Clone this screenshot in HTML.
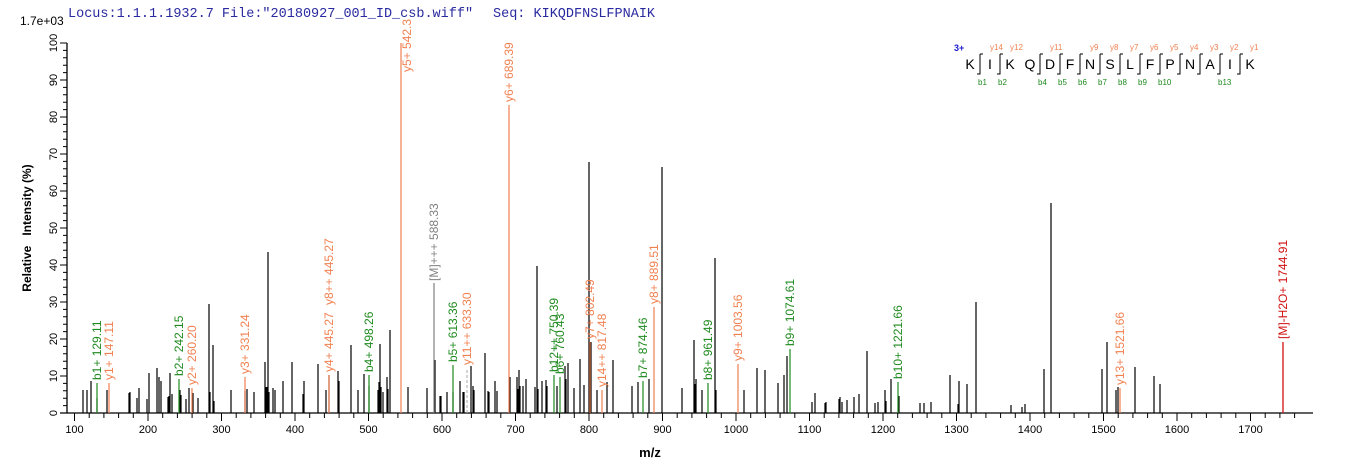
<!DOCTYPE html>
<html><head><meta charset="utf-8"><style>
html,body{margin:0;padding:0;background:#fff;}
svg{display:block;font-family:"Liberation Sans",Arial,sans-serif;}
.o{fill:#f08050}.g{fill:#1e8a1e}.gr{fill:#808080}.r{fill:#d01010}
</style></head><body>
<svg width="1362" height="473" viewBox="0 0 1362 473" xmlns="http://www.w3.org/2000/svg">
<text x="68" y="17" font-family="Liberation Mono,monospace" font-size="13.5" fill="#2a2aa0">Locus:1.1.1.1932.7 File:"20180927_001_ID_csb.wiff"</text>
<text x="493" y="17" font-family="Liberation Mono,monospace" font-size="13.5" fill="#2a2aa0">Seq: KIKQDFNSLFPNAIK</text>
<text x="20" y="25" font-size="12" fill="#000">1.7e+03</text>
<path d="M67 43V413M60 413H1313" stroke="#000" stroke-width="1.3" fill="none"/>
<path stroke="#000" stroke-width="1" fill="none" d="M60 413H67M63 405.6H67M63 398.2H67M63 390.8H67M63 383.4H67M60 376H67M63 368.6H67M63 361.2H67M63 353.8H67M63 346.4H67M60 339H67M63 331.6H67M63 324.2H67M63 316.8H67M63 309.4H67M60 302H67M63 294.6H67M63 287.2H67M63 279.8H67M63 272.4H67M60 265H67M63 257.6H67M63 250.2H67M63 242.8H67M63 235.4H67M60 228H67M63 220.6H67M63 213.2H67M63 205.8H67M63 198.4H67M60 191H67M63 183.6H67M63 176.2H67M63 168.8H67M63 161.4H67M60 154H67M63 146.6H67M63 139.2H67M63 131.8H67M63 124.4H67M60 117H67M63 109.6H67M63 102.2H67M63 94.8H67M63 87.4H67M60 80H67M63 72.6H67M63 65.2H67M63 57.8H67M63 50.4H67M60 43H67"/>
<g font-size="11" fill="#000" text-anchor="middle">
<text transform="translate(57,413) rotate(-90)">0</text>
<text transform="translate(57,376) rotate(-90)">10</text>
<text transform="translate(57,339) rotate(-90)">20</text>
<text transform="translate(57,302) rotate(-90)">30</text>
<text transform="translate(57,265) rotate(-90)">40</text>
<text transform="translate(57,228) rotate(-90)">50</text>
<text transform="translate(57,191) rotate(-90)">60</text>
<text transform="translate(57,154) rotate(-90)">70</text>
<text transform="translate(57,117) rotate(-90)">80</text>
<text transform="translate(57,80) rotate(-90)">90</text>
<text transform="translate(57,43) rotate(-90)">100</text>
</g>
<text transform="translate(31,228) rotate(-90)" font-size="12" font-weight="bold" text-anchor="middle" xml:space="preserve" style="white-space:pre">Relative   Intensity (%)</text>
<path stroke="#000" stroke-width="1" fill="none" d="M74.5 413v8M89.2 413v5M103.9 413v5M118.6 413v5M133.3 413v5M148 413v8M162.7 413v5M177.4 413v5M192.1 413v5M206.8 413v5M221.5 413v8M236.2 413v5M250.9 413v5M265.6 413v5M280.3 413v5M295 413v8M309.7 413v5M324.4 413v5M339.1 413v5M353.8 413v5M368.5 413v8M383.2 413v5M397.9 413v5M412.6 413v5M427.3 413v5M442 413v8M456.7 413v5M471.4 413v5M486.1 413v5M500.8 413v5M515.5 413v8M530.2 413v5M544.9 413v5M559.6 413v5M574.3 413v5M589 413v8M603.7 413v5M618.4 413v5M633.1 413v5M647.8 413v5M662.5 413v8M677.2 413v5M691.9 413v5M706.6 413v5M721.3 413v5M736 413v8M750.7 413v5M765.4 413v5M780.1 413v5M794.8 413v5M809.5 413v8M824.2 413v5M838.9 413v5M853.6 413v5M868.3 413v5M883 413v8M897.7 413v5M912.4 413v5M927.1 413v5M941.8 413v5M956.5 413v8M971.2 413v5M985.9 413v5M1000.6 413v5M1015.3 413v5M1030 413v8M1044.7 413v5M1059.4 413v5M1074.1 413v5M1088.8 413v5M1103.5 413v8M1118.2 413v5M1132.9 413v5M1147.6 413v5M1162.3 413v5M1177 413v8M1191.7 413v5M1206.4 413v5M1221.1 413v5M1235.8 413v5M1250.5 413v8M1265.2 413v5M1279.9 413v5M1294.6 413v5"/>
<g font-size="11" fill="#000" text-anchor="middle">
<text x="74.5" y="433">100</text><text x="148" y="433">200</text><text x="221.5" y="433">300</text><text x="295" y="433">400</text><text x="368.5" y="433">500</text><text x="442" y="433">600</text><text x="515.5" y="433">700</text><text x="589" y="433">800</text><text x="662.5" y="433">900</text><text x="736" y="433">1000</text><text x="809.5" y="433">1100</text><text x="883" y="433">1200</text><text x="956.5" y="433">1300</text><text x="1030" y="433">1400</text><text x="1103.5" y="433">1500</text><text x="1177" y="433">1600</text><text x="1250.5" y="433">1700</text>
</g>
<text x="650" y="457" font-size="13" font-weight="bold" text-anchor="middle">m/z</text>
<path stroke="#000" stroke-width="1.2" fill="none" d="M83 413v-23M87 413v-23M91 413v-32M97 413v-15M107 413v-23M129 413v-20M130 413v-21M137 413v-15M139 413v-25M147 413v-14M149 413v-40M157 413v-45M159 413v-36M161 413v-32M168 413v-16M169 413v-17M170 413v-40M172 413v-19M180 413v-23M181 413v-18M186 413v-14M189 413v-25M193 413v-20M198 413v-15M209 413v-109M210 413v-21M213 413v-68M214 413v-12M231 413v-23M245 413v-22M247 413v-24M254 413v-21M265 413v-51M266 413v-26M267 413v-26M268 413v-161M269 413v-21M273 413v-25M275 413v-23M283 413v-32M292 413v-51M303 413v-19M304 413v-32M318 413v-49M326 413v-23M329 413v-38M338 413v-42M339 413v-32M351 413v-68M358 413v-23M364 413v-39M369 413v-27M378 413v-23M379 413v-31M380 413v-69M381 413v-26M383 413v-21M387 413v-36M388 413v-24M390 413v-83M408 413v-26M427 413v-25M435 413v-53M441 413v-17M447 413v-21M440 413v-17M453 413v-21M460 413v-32M463 413v-21M464 413v-21M471 413v-47M473 413v-27M474 413v-23M485 413v-60M488 413v-22M489 413v-21M495 413v-32M497 413v-22M510 413v-36M517 413v-36M518 413v-24M519 413v-43M520 413v-27M523 413v-27M526 413v-34M535 413v-26M537 413v-147M538 413v-24M542 413v-32M546 413v-33M547 413v-27M557 413v-27M565 413v-47M566 413v-34M568 413v-50M574 413v-25M580 413v-54M584 413v-28M589 413v-251M591 413v-71M597 413v-23M607 413v-31M613 413v-53M632 413v-27M638 413v-31M649 413v-34M662 413v-246M682 413v-25M694 413v-73M695 413v-29M696 413v-34M702 413v-23M715 413v-155M716 413v-23M744 413v-23M757 413v-45M765 413v-43M778 413v-30M784 413v-38M787 413v-57M812 413v-11M815 413v-20M825 413v-10M826 413v-11M839 413v-14M840 413v-16M842 413v-11M847 413v-13M854 413v-16M859 413v-19M867 413v-62M875 413v-10M878 413v-11M885 413v-23M886 413v-12M891 413v-34M899 413v-17M920 413v-10M924 413v-10M931 413v-11M950 413v-38M958 413v-9M959 413v-32M967 413v-29M976 413v-111M1011 413v-8M1022 413v-6M1025 413v-9M1044 413v-44M1051 413v-210M1102 413v-44M1107 413v-71M1116 413v-23M1118 413v-26M1135 413v-46M1154 413v-37M1160 413v-29"/>
<path stroke="#1e8a1e" stroke-width="1.2" fill="none" d="M97 413v-30M179 413v-34M369 413v-38M453 413v-48M554 413v-38M560 413v-36M643 413v-32M708 413v-30M790 413v-64M898 413v-31"/>
<path stroke="#f08050" stroke-width="1.2" fill="none" d="M109 413v-30M192 413v-25M245 413v-36M329 413v-38M401 413v-370M509 413v-308M590 413v-71M602 413v-23M654 413v-106M738 413v-49M1120 413v-25"/>
<path stroke="#808080" stroke-width="1.2" fill="none" d="M434 413v-130"/>
<path stroke="#aaa" stroke-width="1" stroke-dasharray="3,2" fill="none" d="M467 413v-45"/>
<path stroke="#d01010" stroke-width="1.3" fill="none" d="M1283 413v-71"/>
<g font-size="12">
<text class="g" transform="translate(101,380) rotate(-90)">b1+ 129.11</text>
<text class="o" transform="translate(113,380) rotate(-90)">y1+ 147.11</text>
<text class="g" transform="translate(183,376) rotate(-90)">b2+ 242.15</text>
<text class="o" transform="translate(196,385) rotate(-90)">y2+ 260.20</text>
<text class="o" transform="translate(249,374) rotate(-90)">y3+ 331.24</text>
<text class="o" transform="translate(333,372) rotate(-90)">y4+ 445.27</text>
<text class="o" transform="translate(333,305) rotate(-90)">y8++ 445.27</text>
<text class="g" transform="translate(373,372) rotate(-90)">b4+ 498.26</text>
<text class="o" transform="translate(411,72) rotate(-90)">y5+ 542.3</text>
<text class="gr" transform="translate(438,281) rotate(-90)">[M]+++ 588.33</text>
<text class="g" transform="translate(457,362) rotate(-90)">b5+ 613.36</text>
<text class="o" transform="translate(471,365) rotate(-90)">y11++ 633.30</text>
<text class="o" transform="translate(513,102) rotate(-90)">y6+ 689.39</text>
<text class="g" transform="translate(558,372) rotate(-90)">b12++ 750.39</text>
<text class="g" transform="translate(564,374) rotate(-90)">b6+ 760.43</text>
<text class="o" transform="translate(594,339) rotate(-90)">y7+ 802.49</text>
<text class="o" transform="translate(606,387) rotate(-90)">y14++ 817.48</text>
<text class="g" transform="translate(647,378) rotate(-90)">b7+ 874.46</text>
<text class="o" transform="translate(658,304) rotate(-90)">y8+ 889.51</text>
<text class="g" transform="translate(712,380) rotate(-90)">b8+ 961.49</text>
<text class="o" transform="translate(742,361) rotate(-90)">y9+ 1003.56</text>
<text class="g" transform="translate(794,346) rotate(-90)">b9+ 1074.61</text>
<text class="g" transform="translate(902,379) rotate(-90)">b10+ 1221.66</text>
<text class="o" transform="translate(1124,385) rotate(-90)">y13+ 1521.66</text>
<text class="r" transform="translate(1287,339) rotate(-90)">[M]-H2O+ 1744.91</text>
</g>
<text x="954" y="51" font-size="9" font-weight="bold" fill="#1a1acc">3+</text>
<g font-size="14" fill="#000" text-anchor="middle">
<text x="970" y="69">K</text><text x="990" y="69">I</text><text x="1010" y="69">K</text><text x="1030" y="69">Q</text><text x="1050" y="69">D</text><text x="1070" y="69">F</text><text x="1090" y="69">N</text><text x="1110" y="69">S</text><text x="1130" y="69">L</text><text x="1150" y="69">F</text><text x="1170" y="69">P</text><text x="1190" y="69">N</text><text x="1210" y="69">A</text><text x="1230" y="69">I</text><text x="1250" y="69">K</text>
</g>
<path stroke="#000" stroke-width="1" fill="none" d="M980 54v20h-3M983 54h-3M1000 54v20h-3M1003 54h-3M1040 54v20h-3M1043 54h-3M1060 54v20h-3M1063 54h-3M1080 54v20h-3M1083 54h-3M1100 54v20h-3M1103 54h-3M1120 54v20h-3M1123 54h-3M1140 54v20h-3M1143 54h-3M1160 54v20h-3M1163 54h-3M1180 54v20h-3M1183 54h-3M1200 54v20h-3M1203 54h-3M1220 54v20h-3M1223 54h-3M1240 54v20h-3M1243 54h-3"/>
<g font-size="8" fill="#f08050">
<text x="990" y="50">y14</text><text x="1010" y="50">y12</text><text x="1050" y="50">y11</text><text x="1090" y="50">y9</text><text x="1110" y="50">y8</text><text x="1130" y="50">y7</text><text x="1150" y="50">y6</text><text x="1170" y="50">y5</text><text x="1190" y="50">y4</text><text x="1210" y="50">y3</text><text x="1230" y="50">y2</text><text x="1250" y="50">y1</text>
</g>
<g font-size="8" fill="#1e8a1e">
<text x="978" y="85">b1</text><text x="998" y="85">b2</text><text x="1038" y="85">b4</text><text x="1058" y="85">b5</text><text x="1078" y="85">b6</text><text x="1098" y="85">b7</text><text x="1118" y="85">b8</text><text x="1138" y="85">b9</text><text x="1158" y="85">b10</text><text x="1218" y="85">b13</text>
</g>
</svg>
</body></html>
